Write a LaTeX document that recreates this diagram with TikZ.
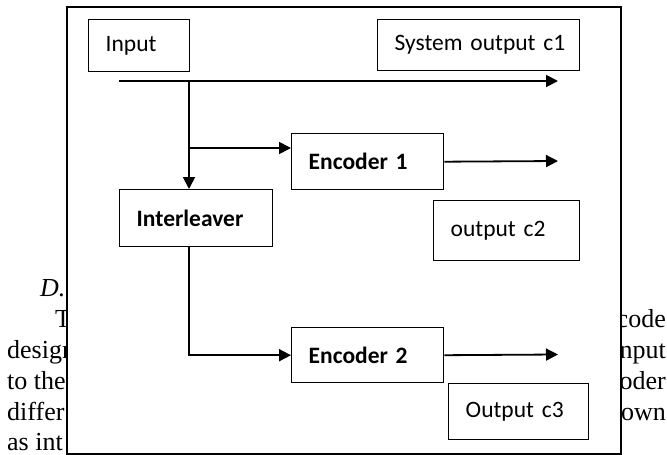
\documentclass[tikz,border=0pt]{standalone}
\usepackage{fontspec}
\setmainfont{Carlito}
\newfontfamily\paperfont{Liberation Serif}
\usetikzlibrary{arrows.meta}
\begin{document}
\begin{tikzpicture}[x=1pt, y=-1pt,
    myboxstyle/.style={draw=black, line width=1.4pt, anchor=north west, inner xsep=17pt, inner ysep=0pt, align=left, font=\fontsize{23.5}{28}\selectfont},
    myarrowstyle/.style={draw=black, line width=1.8pt, -{Triangle[length=12pt, width=12pt]}},
    mytextstyle/.style={inner sep=0pt, font=\paperfont\fontsize{26}{31}\selectfont}]
    \useasboundingbox (0,0) rectangle (667,455);
    % page text behind the figure
    \node[mytextstyle, anchor=base west] (head) at (40,296) {\itshape D.};
    \node[mytextstyle, anchor=base west] (l1) at (55,327) {T};
    \node[mytextstyle, anchor=base west] (l2) at (7,358) {design};
    \node[mytextstyle, anchor=base west] (l3) at (7,389) {to the};
    \node[mytextstyle, anchor=base west] (l4) at (7,420) {differ};
    \node[mytextstyle, anchor=base west] (l5) at (7,450) {as int};
    \node[mytextstyle, anchor=base east] (r1) at (666,327) {code};
    \node[mytextstyle, anchor=base east] (r2) at (666,358) {nput};
    \node[mytextstyle, anchor=base east] (r3) at (666,389) {oder};
    \node[mytextstyle, anchor=base east] (r4) at (666,420) {own};
    % figure frame
    \draw[line width=2pt, fill=white] (67,7) rectangle (621,454);
    \node[myboxstyle, text width=67pt, minimum height=52pt] (input) at (88,19) {Input};
    \node[myboxstyle, text width=168pt, minimum height=51pt] (sysout) at (377,19) {\mbox{System output c1}};
    \node[myboxstyle, text width=118pt, minimum height=56pt, font=\bfseries\fontsize{23.5}{28}\selectfont] (enc1) at (291,133) {Encoder 1};
    \node[myboxstyle, text width=119pt, minimum height=57pt, font=\bfseries\fontsize{23.5}{28}\selectfont] (intl) at (119,189) {Interleaver};
    \node[myboxstyle, text width=112pt, minimum height=60pt] (outc2) at (433,200) {output c2};
    \node[myboxstyle, text width=118pt, minimum height=55pt, font=\bfseries\fontsize{23.5}{28}\selectfont] (enc2) at (291,327) {Encoder 2};
    \node[myboxstyle, text width=106pt, minimum height=56pt] (outc3) at (448,383) {Output c3};
    \coordinate (start) at (119,81);
    \coordinate (split) at (189,81);
    \coordinate (c1end) at (558,81);
    \coordinate (tap) at (189,148);
    \coordinate (c2end) at (558,161);
    \coordinate (c3end) at (558,354.5);
    \draw[myarrowstyle] (start) -- (c1end);
    \draw[myarrowstyle] (split) -- (split |- intl.north);
    \draw[myarrowstyle] (tap) -- (tap -| enc1.west);
    \draw[myarrowstyle] (enc1.east) -- (c2end);
    \draw[myarrowstyle] (split |- intl.south) |- (enc2.west);
    \draw[myarrowstyle] (enc2.east) -- (c3end);
\end{tikzpicture}
\end{document}
